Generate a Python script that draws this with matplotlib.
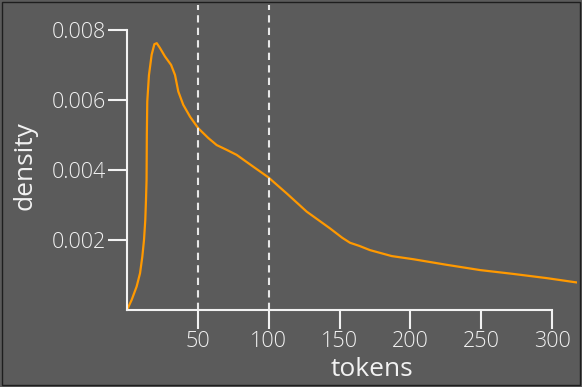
import matplotlib
matplotlib.use("Agg")
from matplotlib import pyplot as plt
from matplotlib.patches import Rectangle

# density curve
tokens = [0, 3.3, 6.8, 9.2, 10.8, 12.0, 12.9, 13.4, 13.8, 14.0, 14.3, 15.5,
          17.4, 19.3, 21.0, 23.3, 26.8, 31.1, 33.9, 36.2, 39.7, 44.5, 50.3,
          57.4, 63.3, 70.0, 77.4, 89.2, 99.7, 112.7, 126.8, 143.3, 152.0,
          157.4, 164.0, 171.5, 186.8, 202.1, 225.7, 249.2, 272.7, 296.3,
          316.8, 325]
density = [0, 0.00029, 0.00067, 0.00105, 0.00152, 0.00200, 0.00257, 0.00314,
           0.00371, 0.0050, 0.00595, 0.00671, 0.00729, 0.00759, 0.00762,
           0.00748, 0.00724, 0.00700, 0.00671, 0.00624, 0.00586, 0.00552,
           0.00519, 0.00491, 0.00471, 0.00458, 0.00443, 0.00409, 0.00379,
           0.00333, 0.00281, 0.00233, 0.00206, 0.00192, 0.00183, 0.00171,
           0.00154, 0.00145, 0.00129, 0.00114, 0.00103, 0.00091, 0.00079,
           0.00075]
cutoffs = [50, 100]
xticks = [50, 100, 150, 200, 250, 300]
yticks = [0.002, 0.004, 0.006, 0.008]

bg = "#5b5b5b"
fg = "#f2f2f2"
plt.rcParams['font.family'] = ['Open Sans', 'DejaVu Sans']

fig = plt.figure(figsize=(5.82, 3.87), dpi=100, facecolor=bg)
ax = fig.add_axes([127 / 582, 77 / 387, 450 / 582, 305 / 387])
ax.set_facecolor(bg)

ax.plot(tokens, density, color="#ff9900", lw=1.6, solid_joinstyle="round")
for c in cutoffs:
    ax.axvline(c, color="#e8e8e8", lw=1.5, dashes=(3.5, 2.5))

ax.set_xlim(0, 317.6)
ax.set_ylim(0, 0.00871)
ax.set_xticks(xticks)
ax.set_yticks(yticks)
ax.set_yticklabels(["0.002", "0.004", "0.006", "0.008"])

for s in ["top", "right"]:
    ax.spines[s].set_visible(False)
for s in ["left", "bottom"]:
    ax.spines[s].set_color(fg)
    ax.spines[s].set_linewidth(1.5)
ax.spines["left"].set_bounds(0, 0.008)
ax.spines["bottom"].set_bounds(0, 300)

ax.tick_params(colors=fg, length=14, width=1.5, labelsize=15.5, pad=1)
for lab in ax.get_xticklabels() + ax.get_yticklabels():
    lab.set_fontweight("light")

ax.set_xlabel("tokens", color=fg, fontsize=19)
ax.set_ylabel("density", color=fg, fontsize=19)
ax.xaxis.set_label_coords(0.544, -0.195)
ax.yaxis.set_label_coords(-0.227, 0.475)
ax.xaxis.label.set_va("center")
ax.yaxis.label.set_va("center")

fig.patches.append(Rectangle((0.004, 0.004), 0.992, 0.992, transform=fig.transFigure,
                             fill=False, edgecolor="#1e1e1e", lw=1))

plt.savefig("out.png", dpi=100, facecolor=bg)
